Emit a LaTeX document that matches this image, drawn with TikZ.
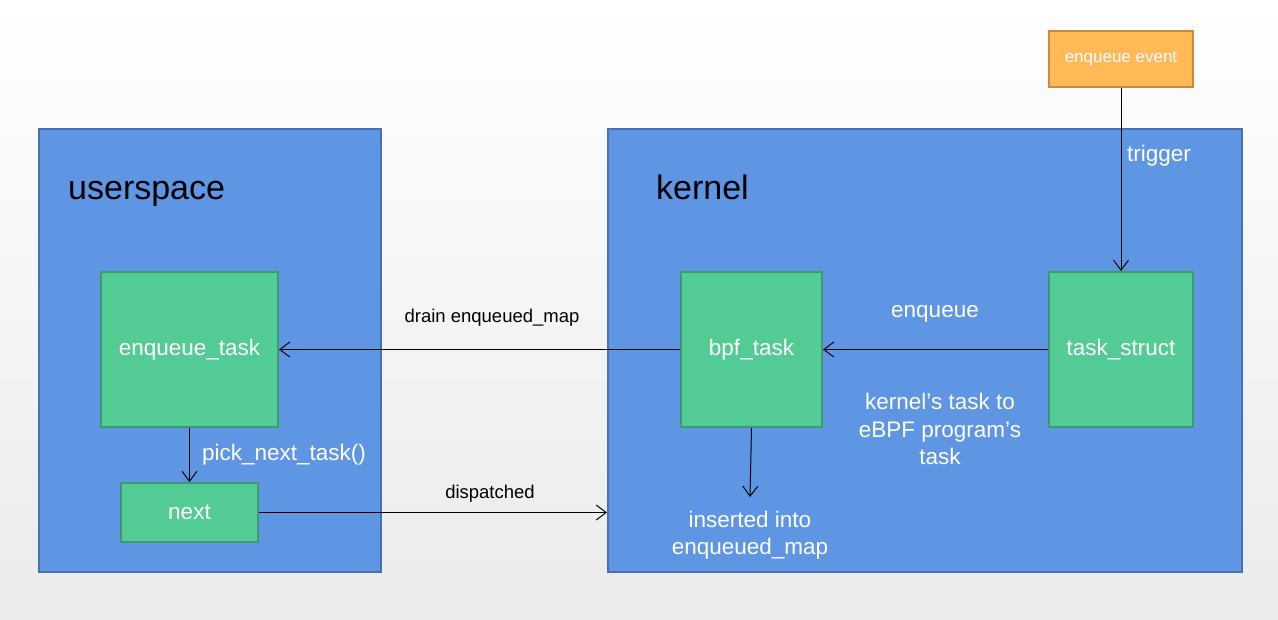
\documentclass[tikz,border=0pt]{standalone}
\usepackage{fontspec}
\setmainfont{Liberation Sans}
\usetikzlibrary{arrows.meta,calc}
\definecolor{bluefill}{HTML}{5F96E4}
\definecolor{blueline}{HTML}{4A70B2}
\definecolor{greenfill}{HTML}{53CB95}
\definecolor{greenline}{HTML}{3C9A6C}
\definecolor{orangefill}{HTML}{FFB957}
\definecolor{orangeline}{HTML}{C98B3B}
\tikzset{
  region/.style={draw=blueline, fill=bluefill, line width=2pt, anchor=north west, inner sep=0pt},
  gbox/.style={draw=greenline, fill=greenfill, line width=2pt, anchor=north west, inner sep=0pt,
     text=white, font=\fontsize{22.5}{27}\selectfont},
  obox/.style={draw=orangeline, fill=orangefill, line width=2pt, anchor=north west, inner sep=0pt,
     text=white, font=\fontsize{17}{20}\selectfont},
  wlabel/.style={text=white, font=\fontsize{22.5}{27.5}\selectfont, align=center, inner sep=0pt},
  blabel/.style={text=black, font=\fontsize{18.5}{22}\selectfont, inner sep=0pt},
  title/.style={text=black, font=\fontsize{34}{40}\selectfont, anchor=base west, inner sep=0pt},
  conn/.style={draw=black, line width=1pt, -{Straight Barb[length=10pt,width=15pt,line width=1pt]}},
}
\begin{document}
\begin{tikzpicture}[x=1pt,y=-1pt]
\shade[top color=white, bottom color=black!8] (0,0) rectangle (1278,619);
\useasboundingbox (0,0) rectangle (1278,619);

\node[region, minimum width=342pt, minimum height=443pt] (user) at (38,128) {};
\node[region, minimum width=634pt, minimum height=443pt] (kernel) at (607,128) {};

\node[title] (usertitle) at (68,199) {userspace};
\node[title] (kerneltitle) at (656,199) {kernel};

\node[gbox, minimum width=177pt, minimum height=155pt] (etask) at (100,271) {enqueue\_task};
\node[gbox, minimum width=137pt, minimum height=59pt] (next) at (120,482) {next};
\node[gbox, minimum width=141pt, minimum height=155pt] (bpf) at (680,271) {bpf\_task};
\node[gbox, minimum width=144pt, minimum height=155pt] (ts) at (1048,271) {task\_struct};
\node[obox, minimum width=144pt, minimum height=56pt] (ev) at (1048,30) {enqueue event};

\node[wlabel] (trig) at (1159,156) {trigger};
\node[wlabel] (enq) at (935,314) {enqueue};
\node[wlabel] (ktask) at (940,429) {kernel’s task to\\eBPF program’s\\task};
\node[wlabel] (pick) at (284,455) {pick\_next\_task()};
\node[wlabel] (ins) at (750,535) {inserted into\\enqueued\_map};
\node[blabel] (drain) at (492,318) {drain enqueued\_map};
\node[blabel] (disp) at (490,494) {dispatched};

\coordinate (insTop) at (750,497);

\draw[conn] (ev.south) -- (ts.north);
\draw[conn] (ts.west) -- (bpf.east);
\draw[conn] (bpf.west) -- (etask.east);
\draw[conn] (bpf.south) -- (insTop);
\draw[conn] (etask.south -| next.north) -- (next.north);
\draw[conn] (next.east) -- (kernel.west |- next.east);
\end{tikzpicture}
\end{document}
